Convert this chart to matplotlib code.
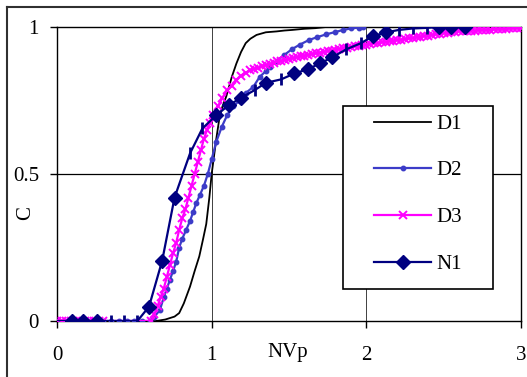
import numpy as np
import matplotlib
matplotlib.use('Agg')
import matplotlib.pyplot as plt
from matplotlib.lines import Line2D
from matplotlib.patches import Rectangle

# Series values.
d1_x = [0.0, 0.64, 0.7, 0.73, 0.76, 0.79, 0.82, 0.86, 0.89, 0.92,
        0.945, 0.965, 0.985, 1.0, 1.015, 1.03, 1.05, 1.07, 1.095, 1.13,
        1.16, 1.19, 1.22, 1.25, 1.29, 1.35, 1.42, 1.47, 1.52, 1.6,
        1.67, 1.74, 1.95]
d1_y = [0.0, 0.0, 0.005, 0.01, 0.015, 0.027, 0.06, 0.117, 0.17, 0.22,
        0.28, 0.33, 0.42, 0.5, 0.56, 0.62, 0.69, 0.73, 0.765, 0.83,
        0.876, 0.915, 0.945, 0.96, 0.973, 0.982, 0.985, 0.988, 0.99, 0.994,
        0.996, 1.0, 1.0]

d2_x = [0.0, 0.05, 0.1, 0.15, 0.2, 0.25, 0.3, 0.35, 0.4, 0.45,
        0.5, 0.55, 0.6, 0.63, 0.665, 0.69, 0.71, 0.73, 0.75, 0.77,
        0.79, 0.81, 0.835, 0.86, 0.88, 0.9, 0.925, 0.95, 0.975, 1.0,
        1.03, 1.065, 1.1, 1.14, 1.18, 1.22, 1.27, 1.31, 1.35, 1.38,
        1.42, 1.47, 1.52, 1.57, 1.63, 1.68, 1.74, 1.8, 1.85, 1.9,
        1.95, 1.98]
d2_y = [0, 0, 0, 0, 0, 0, 0, 0, 0, 0,
        0, 0, 0, 0.015, 0.037, 0.08, 0.11, 0.14, 0.17, 0.2,
        0.25, 0.28, 0.31, 0.34, 0.37, 0.4, 0.43, 0.46, 0.5, 0.55,
        0.61, 0.66, 0.7, 0.73, 0.75, 0.775, 0.797, 0.83, 0.85, 0.865,
        0.885, 0.905, 0.925, 0.94, 0.956, 0.965, 0.975, 0.983, 0.99, 0.995,
        0.998, 1.0]

d3_x = [0.0, 0.03, 0.06, 0.09, 0.12, 0.15, 0.18, 0.21, 0.24, 0.27,
        0.3, 0.61, 0.63, 0.65, 0.67, 0.69, 0.71, 0.73, 0.75, 0.77,
        0.79, 0.81, 0.83, 0.85, 0.87, 0.89, 0.91, 0.93, 0.95, 0.97,
        0.99, 1.01, 1.04, 1.07, 1.1, 1.13, 1.16, 1.19, 1.22, 1.25,
        1.275, 1.3, 1.325, 1.35, 1.375, 1.4, 1.425, 1.45, 1.475, 1.5,
        1.525, 1.55, 1.575, 1.6, 1.625, 1.65, 1.675, 1.7, 1.725, 1.75,
        1.775, 1.8, 1.825, 1.85, 1.875, 1.9, 1.925, 1.95, 1.975, 2.0,
        2.025, 2.05, 2.075, 2.1, 2.125, 2.15, 2.175, 2.2, 2.225, 2.25,
        2.275, 2.3, 2.325, 2.35, 2.375, 2.4, 2.425, 2.45, 2.475, 2.5,
        2.525, 2.55, 2.575, 2.6, 2.625, 2.65, 2.675, 2.7, 2.725, 2.75,
        2.775, 2.8, 2.825, 2.85, 2.875, 2.9, 2.925, 2.95, 2.975, 3.0]
d3_y = [0, 0, 0, 0, 0, 0, 0, 0, 0, 0,
        0, 0, 0.025, 0.05, 0.08, 0.11, 0.15, 0.19, 0.23, 0.265,
        0.31, 0.35, 0.38, 0.42, 0.46, 0.5, 0.54, 0.58, 0.62, 0.65,
        0.675, 0.7, 0.73, 0.76, 0.785, 0.8, 0.82, 0.835, 0.845, 0.853,
        0.858, 0.862, 0.866, 0.87, 0.874, 0.878, 0.883, 0.886, 0.889, 0.891,
        0.894, 0.897, 0.9, 0.903, 0.905, 0.908, 0.91, 0.913, 0.916, 0.918,
        0.92, 0.922, 0.925, 0.927, 0.929, 0.931, 0.934, 0.936, 0.938, 0.94,
        0.942, 0.944, 0.946, 0.948, 0.95, 0.952, 0.954, 0.956, 0.957, 0.959,
        0.961, 0.963, 0.965, 0.967, 0.969, 0.971, 0.973, 0.975, 0.977, 0.979,
        0.98, 0.982, 0.984, 0.985, 0.986, 0.987, 0.988, 0.988, 0.989, 0.99,
        0.99, 0.991, 0.992, 0.993, 0.993, 0.994, 0.995, 0.996, 0.997, 0.998]

n1_x = [0.0, 0.095, 0.17, 0.26, 0.346, 0.43, 0.52, 0.595, 0.68, 0.76,
        0.86, 0.94, 1.03, 1.11, 1.19, 1.28, 1.35, 1.45, 1.535, 1.62,
        1.7, 1.78, 1.87, 1.965, 2.04, 2.13, 2.21, 2.3, 2.39, 2.47,
        2.55, 2.64]
n1_y = [0, 0, 0, 0, 0, 0, 0, 0.049, 0.205, 0.42,
        0.57, 0.655, 0.7, 0.734, 0.759, 0.786, 0.81, 0.822, 0.842, 0.856,
        0.876, 0.897, 0.924, 0.945, 0.968, 0.982, 0.99, 0.995, 0.997, 1.0,
        1.0, 1.0]
# which N1 points carry a diamond and which a small vertical tick
n1_diamonds = [1, 2, 3, 7, 8, 9, 12, 13, 14, 16, 18, 19, 20, 21, 24, 25, 29, 30, 31]
n1_ticks = [4, 5, 6, 10, 11, 15, 17, 22, 23, 26, 27, 28]

x_ticks = [0, 1, 2, 3]
y_ticks = [0, 0.5, 1]
y_tick_labels = ['0', '0.5', '1']

W, H = 527, 377
plt.rcParams['font.family'] = ['Liberation Serif', 'DejaVu Serif']
fig = plt.figure(figsize=(W / 100, H / 100), dpi=100)
ax = fig.add_axes([57 / W, 1 - 321 / H, (521 - 57) / W, (321 - 27) / H])

# Grid lines
ax.axhline(0.5, color='black', lw=0.9, zorder=1)
for gx in [1, 2]:
    ax.axvline(gx, color='#404040', lw=0.7, zorder=1)

ax.plot(d1_x, d1_y, color='black', lw=1.3, label='D1', zorder=3)
ax.plot(d2_x, d2_y, color='#3c3cc8', lw=1.6, marker='o', ms=3.2, label='D2', zorder=4)
ax.plot(d3_x, d3_y, color='#ff00ff', lw=1.6, marker='x', ms=6, mew=1.4, label='D3', zorder=5)
ax.plot(n1_x, n1_y, color='#000080', lw=1.6, marker='D', ms=7, markevery=n1_diamonds,
        label='N1', zorder=6)
ax.plot(n1_x, n1_y, color='#000080', lw=0, marker='|', ms=8, mew=2, markevery=n1_ticks, zorder=6)

ax.set_xlim(0, 3)
ax.set_ylim(0, 1)
ax.set_xticks(x_ticks)
ax.set_xticklabels([str(v) for v in x_ticks])
ax.set_yticks(y_ticks)
ax.set_yticklabels(y_tick_labels)
ax.tick_params(axis='x', direction='out', length=5, width=1, pad=13, labelsize=15)
ax.tick_params(axis='y', direction='out', length=5, width=1, pad=8, labelsize=15)
for s in ax.spines.values():
    s.set_linewidth(1.0)
    s.set_color('black')

fig.text(26 / W, 1 - 213 / H, 'C', rotation=90, fontsize=15, ha='center', va='center')
fig.text(288 / W, 1 - 353 / H, 'NVp', fontsize=15, ha='center', va='center')

# Legend box and entries
fig.patches.append(Rectangle((343 / W, 1 - 289 / H), 150 / W, 183 / H, transform=fig.transFigure,
                             facecolor='white', edgecolor='black', lw=1.2, zorder=2))
handles, labels = ax.get_legend_handles_labels()
fig.legend(handles, labels, loc='center', bbox_to_anchor=(418 / W, 1 - 194 / H),
           frameon=False, fontsize=15, handlelength=2.7, handletextpad=0.25,
           labelspacing=1.3, borderpad=0)

# Outer chart border
fig.add_artist(Line2D([7 / W, 1], [1 - 7 / H, 1 - 7 / H], transform=fig.transFigure,
                      color='#303030', lw=1.5))
fig.add_artist(Line2D([7 / W, 7 / W], [0, 1 - 7 / H], transform=fig.transFigure,
                      color='#303030', lw=1.5))

fig.savefig('out.png', dpi=100)
